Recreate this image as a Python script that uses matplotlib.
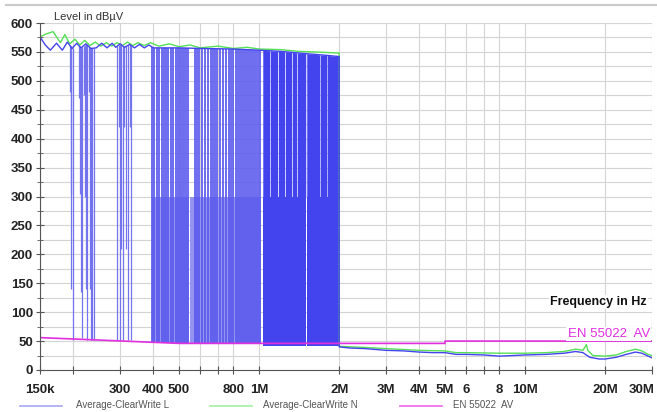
import numpy as np
import matplotlib.pyplot as plt
import matplotlib.transforms as mtransforms
from matplotlib.lines import Line2D
from matplotlib.ticker import FixedLocator, FixedFormatter, MultipleLocator, NullLocator

plt.rcParams['font.family'] = ['Liberation Sans', 'DejaVu Sans']

# all frequencies in MHz unless noted
# EN 55022 AV limit line
lim_f = [0.15, 0.5, 5.0, 5.0, 30.0]
lim_v = [56, 46, 46, 50, 50]

# Average-ClearWrite L: top level of the trace up to the 2 MHz cut-off
l_top_f = [0.150, 0.157, 0.164, 0.173, 0.182, 0.190, 0.198, 0.206, 0.214, 0.223,
           0.233, 0.244, 0.256, 0.268, 0.280, 0.289, 0.300, 0.312, 0.326, 0.340,
           0.355, 0.370, 0.385, 0.400, 0.500, 0.600, 0.800, 1.0, 1.2, 1.5, 1.8, 2.0]
l_top_v = [576, 562, 553, 565, 553, 567, 556, 565, 557, 564,
           556, 557, 565, 557, 565, 558, 564, 558, 563, 557,
           563, 557, 562, 557, 557, 556, 555, 553, 551, 547, 544, 542]

# Average-ClearWrite L after 2 MHz
l_tail_f = [2.0, 2.2, 2.5, 3.0, 3.5, 4.0, 4.5, 5.0, 5.5, 6.0, 7.0, 8.0, 9.0, 10.0,
            12.0, 14.0, 15.5, 16.5, 17.5, 19.0, 20.0, 22.0, 24.0, 26.0, 27.5, 29.0, 30.0]
l_tail_v = [40, 38, 37, 34, 33, 31, 30, 30, 27, 27, 26, 24, 25, 26,
            27, 29, 32, 30, 22, 19, 19, 22, 27, 31, 29, 24, 21]

# isolated dips of L below 340 kHz (kHz, lowest level reached)
dip_f = [194, 195.5, 197, 199, 211, 212.5, 214, 216, 219, 221, 223, 225, 229, 231, 233, 236, 240,
         293, 296, 299, 303, 307, 311, 316, 321, 326, 331]
dip_lo = [480, 305, 140, 52, 470, 305, 135, 55, 475, 300, 140, 52, 480, 140, 52, 52, 52,
          52, 420, 52, 210, 52, 420, 210, 52, 420, 52]

# comb of dips between 395 kHz and 1 MHz (kHz), down to the floor
comb_f = [395, 402, 413, 420, 431, 439, 446, 454, 466, 474, 487, 495, 504, 513, 522,
          531, 540, 574, 584, 594, 610, 626, 642, 659, 671, 682, 694, 713, 731, 751,
          770, 784, 798, 818, 833, 847, 862, 877, 892, 908, 924, 940, 956, 973, 990, 1005]
comb_floor = 46

# ranges where L switches too fast to resolve (MHz start, end)
low_light_start = [0.395, 0.552]
low_light_end = [0.547, 1.012]
low_dark_start = [1.032, 1.51]
low_dark_end = [1.497, 2.0]
up_dark_start = [1.032, 1.102, 1.182, 1.256, 1.334, 1.393, 1.51, 1.698, 1.805]
up_dark_end = [1.096, 1.174, 1.248, 1.326, 1.385, 1.497, 1.690, 1.797, 2.0]
band_mid = 300
band_floor = 42

# Average-ClearWrite N
n_f = [0.150, 0.158, 0.168, 0.179, 0.186, 0.194, 0.203, 0.212, 0.221, 0.231,
       0.242, 0.254, 0.266, 0.279, 0.292, 0.306, 0.320, 0.335, 0.350, 0.370,
       0.390, 0.420, 0.460, 0.500, 0.550, 0.600, 0.700, 0.800, 0.900, 1.0,
       1.2, 1.4, 1.6, 1.8, 2.0,
       2.0, 2.5, 3.0, 4.0, 5.0, 5.5, 6.0, 8.0, 10.0, 12.0, 14.0, 15.5, 16.5,
       17.0, 17.2, 18.0, 20.0, 22.0, 24.0, 26.0, 27.5, 29.0, 30.0]
n_v = [576, 581, 585, 566, 580, 564, 572, 562, 570, 561,
       567, 560, 566, 560, 566, 561, 567, 561, 566, 561,
       566, 560, 564, 559, 562, 557, 560, 556, 558, 555,
       554, 551, 550, 549, 548,
       41, 39, 37, 34, 33, 30, 30, 29, 29, 30, 32, 36, 34,
       44, 34, 25, 24, 26, 32, 36, 33, 27, 25]

x_ticks = [0.15, 0.2, 0.3, 0.4, 0.5, 0.6, 0.7, 0.8, 1, 2, 3, 4, 5, 6, 7, 8, 10, 20, 30]
x_labels = ['150k', '', '300', '400', '500', '', '', '800', '1M', '2M', '3M', '4M', '5M',
            '6', '', '8', '10M', '20M', '30M']

BLUE = '#4444ee'
LIGHT = '#9494f0'
GREEN = '#55e055'
MAGENTA = '#e02ee0'

fig = plt.figure(figsize=(6.57, 4.12), dpi=100)
ax = fig.add_axes([40 / 657, 1 - 370 / 412, 612 / 657, 347 / 412])
ax.set_xscale('log')


def top_at(f):
    return np.interp(np.log(f), np.log(l_top_f), l_top_v)


# dense blocks
for s, e in zip(low_light_start, low_light_end):
    ax.fill_between([s, e], band_floor + 4, band_mid, color=LIGHT, lw=0, zorder=2)
for s, e in zip(low_dark_start, low_dark_end):
    ax.fill_between([s, e], band_floor, band_mid, color=BLUE, lw=0, zorder=2)
for s, e in zip(up_dark_start, up_dark_end):
    ax.fill_between([s, e], band_mid, [top_at(s), top_at(e)], color=BLUE, lw=0, zorder=2)

# dips
dip = np.array(dip_f) / 1000
ax.vlines(dip, dip_lo, top_at(dip), color='#7373ee', lw=0.9, zorder=2)
comb = np.array(comb_f) / 1000
ax.vlines(comb, comb_floor, top_at(comb), color='#5a5aee', lw=1.25, zorder=2)

ax.plot(n_f, n_v, color=GREEN, lw=1.0, zorder=3)
ax.plot(l_top_f + l_tail_f, l_top_v + l_tail_v, color=BLUE, lw=1.0, zorder=4)
ax.plot(lim_f, lim_v, color=MAGENTA, lw=1.2, zorder=5)

ax.set_xlim(0.15, 30)
ax.set_ylim(0, 600)
ax.xaxis.set_major_locator(FixedLocator(x_ticks))
ax.xaxis.set_major_formatter(FixedFormatter(x_labels))
ax.xaxis.set_minor_locator(NullLocator())
ax.yaxis.set_major_locator(MultipleLocator(50))
ax.yaxis.set_minor_locator(MultipleLocator(25))

ax.grid(True, which='both', color='#d4d4d4', lw=0.8, zorder=0)
ax.set_axisbelow(True)
for side in ['top', 'right']:
    ax.spines[side].set_visible(False)
for side in ['left', 'bottom']:
    ax.spines[side].set_color('#555555')
    ax.spines[side].set_zorder(6)
ax.tick_params(which='major', direction='inout', length=6, color='#555555',
               labelsize=9.5, labelcolor='#222222')
ax.tick_params(which='minor', direction='inout', length=5, color='#555555')
ax.tick_params(axis='x', pad=7)
ax.tick_params(axis='y', pad=2)
for lab in ax.get_xticklabels() + ax.get_yticklabels():
    lab.set_fontweight('bold')
# keep the last tick label inside the picture
last = ax.get_xticklabels()[-1]
last.set_transform(last.get_transform() +
                   mtransforms.ScaledTranslation(-0.1, 0, fig.dpi_scale_trans))

box = dict(facecolor='white', edgecolor='none', pad=1)
fig.text(54 / 657, 1 - 17 / 412, 'Level in dBµV', fontsize=8, color='#333333',
         va='center', ha='left', bbox=box)
fig.text(647 / 657, 1 - 302 / 412, 'Frequency in Hz', fontsize=9, fontweight='bold',
         color='#111111', va='center', ha='right', bbox=box)
fig.text(650 / 657, 1 - 334 / 412, 'EN 55022  AV', fontsize=9.5, color=MAGENTA,
         va='center', ha='right', bbox=box)

# frame line at the top
fig.add_artist(Line2D([6 / 657, 1], [1 - 5 / 412] * 2, transform=fig.transFigure,
                      color='#cccccc', lw=1.6))

# legend row
legend = [(20, 62, 76, '#a8a8f2', 'Average-ClearWrite L'),
          (210, 252, 263, '#a4eea4', 'Average-ClearWrite N'),
          (400, 442, 453, '#ee66ee', 'EN 55022  AV')]
for x0, x1, xt, c, name in legend:
    fig.add_artist(Line2D([x0 / 657, x1 / 657], [1 - 406 / 412] * 2,
                          transform=fig.transFigure, color=c, lw=1.2))
    fig.text(xt / 657, 1 - 405 / 412, name, fontsize=7, color='#555555',
             va='center', ha='left')

fig.savefig('out.png', dpi=100)
